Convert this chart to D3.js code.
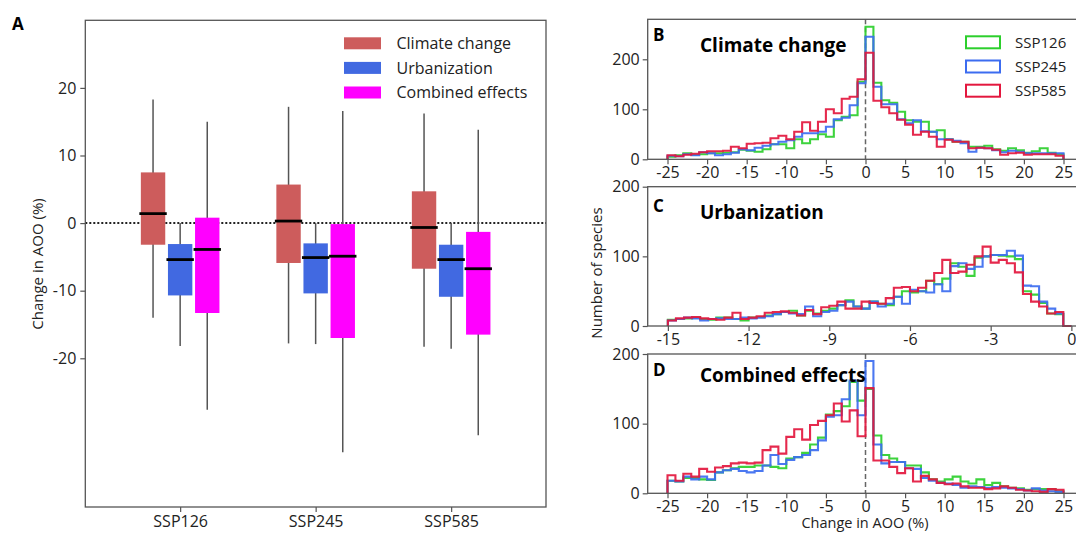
<!DOCTYPE html>
<html>
<head>
<meta charset="utf-8">
<script src="https://cdn.jsdelivr.net/npm/d3@7"></script>
<style>
  body { margin: 0; background: #fff; }
  svg { display: block; font-family: "Open Sans", sans-serif; }
</style>
</head>
<body>
<div id="chart"></div>
<script>
// ---- panel A : box stats, [whisker low, q1, median, q3, whisker high]
var scenarios = ["SSP126", "SSP245", "SSP585"];
var drivers = ["Climate change", "Urbanization", "Combined effects"];
var climateBox = [[-14.0, -3.2, 1.4, 7.5, 18.3], [-17.8, -5.9, 0.3, 5.7, 17.2], [-18.3, -6.75, -0.65, 4.7, 16.2]];
var urbanBox = [[-18.2, -10.7, -5.4, -3.1, 0], [-17.9, -10.4, -5.1, -3.0, 0], [-18.6, -10.9, -5.4, -3.2, 0]];
var combinedBox = [[-27.6, -13.3, -3.9, 0.8, 15.0], [-33.9, -17.0, -4.9, -0.15, 16.6], [-31.4, -16.5, -6.75, -1.3, 13.8]];
var yTicksA = [20, 10, 0, -10, -20];

// ---- panels B-D : histogram counts (50 bins each)
var pctTicks = [-25, -20, -15, -10, -5, 0, 5, 10, 15, 20, 25];
var urbTicks = [-15, -12, -9, -6, -3, 0];
var countTicks = [0, 100, 200];
var ssps = ["SSP126", "SSP245", "SSP585"];

var climateBins = {start: -25, width: 1};
var climate126 = [5,8,12,9,10,12,12,13,14,19,17,15,20,30,30,22,40,32,40,50,45,78,85,88,155,
                  265,153,118,113,95,78,75,75,55,58,40,35,35,25,25,27,20,17,22,18,13,16,22,13,10];
var climate245 = [7,6,10,8,14,12,8,10,13,20,18,23,27,30,35,38,45,52,52,55,65,80,83,108,152,
                  245,145,110,110,80,72,78,56,55,40,40,37,32,15,23,22,18,14,17,15,12,12,12,12,12];
var climate585 = [8,6,9,11,14,16,16,17,25,22,31,32,33,42,47,40,55,74,57,75,100,92,121,125,160,
                  213,117,104,92,79,69,49,55,45,25,39,35,35,22,23,22,19,9,12,13,9,10,10,10,7];

var urbanBins = {start: -15, width: 0.3};
var urban126 = [9,10,11,12,10,9,12,12,10,8,12,13,15,17,20,22,15,22,18,22,25,30,37,28,25,
                35,32,30,42,50,48,50,65,60,68,90,85,72,98,100,102,101,100,96,50,45,33,18,17,0];
var urban245 = [8,10,12,11,8,10,11,10,10,12,11,12,14,17,20,18,17,28,14,20,22,30,35,28,25,
                35,28,32,42,32,52,50,48,60,50,86,90,82,85,100,102,102,108,101,58,57,35,25,18,0];
var urban585 = [8,11,12,13,11,10,9,12,19,10,12,14,19,20,21,19,15,23,17,27,29,35,25,25,35,
                33,32,40,55,56,50,55,65,76,95,76,78,88,100,114,91,95,90,77,46,35,28,18,20,0];

var combinedBins = {start: -25, width: 1};
var combined126 = [18,17,22,22,20,19,30,33,36,38,38,40,40,38,36,50,52,58,70,80,113,118,125,160,133,
                   150,83,55,50,45,40,40,30,20,17,20,24,17,14,20,12,15,10,8,7,5,6,6,6,3];
var combined245 = [18,17,24,20,24,20,30,33,35,32,30,32,40,55,42,48,52,55,62,76,110,112,135,162,112,
                   190,70,43,45,45,36,35,22,18,15,14,12,8,10,9,8,9,8,7,6,4,7,4,3,2];
var combined585 = [26,18,28,24,35,31,37,39,43,44,43,44,62,67,57,81,92,77,98,104,112,129,103,119,82,
                   151,47,47,38,29,36,17,25,20,15,13,14,10,8,8,6,7,10,8,5,4,3,2,6,5];

var boxColors = ["#cd5c5c", "#4169e1", "#ff00ff"];
var lineColors = ["#2ccf2c", "#3c6cf0", "#e3173e"];

var W = 1076, H = 533;
var svg = d3.select("#chart").append("svg")
  .attr("width", W).attr("height", H)
  .attr("viewBox", "0 0 " + W + " " + H);

var fmt = function (d) { return String(d); };

function styleAxis(g, size) {
  g.select(".domain").remove();
  g.selectAll(".tick line").attr("stroke", "#555").attr("stroke-width", 1.2);
  g.selectAll(".tick text").attr("fill", "#222").attr("font-size", size || "16px")
    .attr("font-family", "\"Open Sans\", sans-serif");
}

// ================= panel A =================
var aLeft = 85.3, aRight = 546, aTop = 20.3, aBottom = 507;
var xA = d3.scaleLinear().domain([-0.7, 2.7]).range([aLeft, aRight]);
var yA = d3.scaleLinear().domain([-42, 30]).range([aBottom, aTop]);
var offset = 0.2, boxW = 0.18;

var gA = svg.append("g");

gA.append("g").attr("transform", "translate(" + aLeft + ",0)")
  .call(d3.axisLeft(yA).tickValues(yTicksA).tickSize(5).tickPadding(4).tickFormat(fmt))
  .call(styleAxis);
gA.append("g").attr("transform", "translate(0," + aBottom + ")")
  .call(d3.axisBottom(xA).tickValues([0, 1, 2]).tickSize(5).tickPadding(4)
    .tickFormat(function (d) { return scenarios[d]; }))
  .call(styleAxis);

// zero line
gA.append("line")
  .attr("x1", aLeft).attr("x2", aRight)
  .attr("y1", yA(0)).attr("y2", yA(0))
  .attr("stroke", "#222").attr("stroke-width", 2)
  .attr("stroke-dasharray", "2,2");

var boxSets = [climateBox, urbanBox, combinedBox];
boxSets.forEach(function (set, k) {
  var dx = (k - 1) * offset;
  var grp = gA.append("g").attr("class", "box-" + k);
  set.forEach(function (s, i) {
    var cx = xA(i + dx);
    var half = (xA(boxW) - xA(0)) / 2;
    grp.append("line")
      .attr("x1", cx).attr("x2", cx)
      .attr("y1", yA(s[0])).attr("y2", yA(s[4]))
      .attr("stroke", "#555").attr("stroke-width", 1.5);
    grp.append("rect")
      .attr("x", cx - half).attr("width", half * 2)
      .attr("y", yA(s[3])).attr("height", yA(s[1]) - yA(s[3]))
      .attr("fill", boxColors[k]);
    grp.append("line")
      .attr("x1", cx - half - 1.5).attr("x2", cx + half + 1.5)
      .attr("y1", yA(s[2])).attr("y2", yA(s[2]))
      .attr("stroke", "#000").attr("stroke-width", 2.8);
  });
});

gA.append("rect")
  .attr("x", aLeft).attr("y", aTop)
  .attr("width", aRight - aLeft).attr("height", aBottom - aTop)
  .attr("fill", "none").attr("stroke", "#555").attr("stroke-width", 1.3);

// legend A
var legA = gA.append("g");
drivers.forEach(function (d, k) {
  var cy = 43.3 + k * 24.6;
  legA.append("rect").attr("x", 344).attr("y", cy - 6).attr("width", 37).attr("height", 12)
    .attr("fill", boxColors[k]);
  legA.append("text").attr("x", 396.5).attr("y", cy).attr("dy", "0.35em")
    .attr("font-size", "16px").attr("fill", "#222").text(d);
});

gA.append("text").attr("x", 12).attr("y", 30)
  .attr("font-size", "17px").attr("font-weight", "bold").text("A");

gA.append("text")
  .attr("transform", "translate(38,264) rotate(-90)")
  .attr("text-anchor", "middle").attr("dy", "0.35em")
  .attr("font-size", "15px").attr("fill", "#222")
  .text("Change in AOO (%)");

// ================= panels B-D =================
var hLeft = 647.7;
svg.append("defs").append("clipPath").attr("id", "clipR")
  .append("rect").attr("x", hLeft).attr("y", 0).attr("width", W - hLeft).attr("height", H);

function histPanel(cfg) {
  var g = svg.append("g");
  var x = d3.scaleLinear().domain(cfg.xDomain).range([hLeft, hLeft + (cfg.xDomain[1] - cfg.xDomain[0]) * cfg.pxPerUnit]);
  var y = d3.scaleLinear().domain(cfg.yDomain).range([cfg.bottom, cfg.top]);

  g.append("g").attr("transform", "translate(" + hLeft + ",0)")
    .call(d3.axisLeft(y).tickValues(countTicks).tickSize(5).tickPadding(3).tickFormat(fmt))
    .call(styleAxis);
  g.append("g").attr("transform", "translate(0," + cfg.bottom + ")")
    .call(d3.axisBottom(x).tickValues(cfg.ticks).tickSize(5).tickPadding(2.5).tickFormat(fmt))
    .call(styleAxis);

  var plot = g.append("g").attr("clip-path", "url(#clipR)");

  if (cfg.dashZero) {
    plot.append("line")
      .attr("x1", x(0)).attr("x2", x(0))
      .attr("y1", cfg.top).attr("y2", cfg.bottom)
      .attr("stroke", "#666").attr("stroke-width", 1.5)
      .attr("stroke-dasharray", "5,3");
  }

  var line = d3.line().x(function (p) { return x(p[0]); }).y(function (p) { return y(p[1]); });
  cfg.series.forEach(function (vals, k) {
    var pts = [[cfg.bins.start, 0]];
    vals.forEach(function (v, i) {
      var e0 = cfg.bins.start + i * cfg.bins.width;
      pts.push([e0, v], [e0 + cfg.bins.width, v]);
    });
    pts.push([cfg.bins.start + vals.length * cfg.bins.width, 0]);
    plot.append("path").attr("d", line(pts))
      .attr("fill", "none").attr("stroke", lineColors[k])
      .attr("stroke-width", 2.1).attr("stroke-linejoin", "miter").attr("opacity", 0.92);
  });

  g.append("rect")
    .attr("x", hLeft).attr("y", cfg.top)
    .attr("width", x.range()[1] - hLeft).attr("height", cfg.bottom - cfg.top)
    .attr("fill", "none").attr("stroke", "#555").attr("stroke-width", 1.3);

  g.append("text").attr("x", 653).attr("y", cfg.letterY)
    .attr("font-size", "17px").attr("font-weight", "bold").text(cfg.letter);
  g.append("text").attr("x", 700).attr("y", cfg.titleY)
    .attr("font-size", "19px").attr("font-weight", "bold").text(cfg.title);
  return g;
}

histPanel({
  top: 19.3, bottom: 159.3, xDomain: [-27.5, 27.5], yDomain: [0, 280], pxPerUnit: 7.92,
  ticks: pctTicks, bins: climateBins, series: [climate126, climate245, climate585],
  dashZero: true, letter: "B", letterY: 41, title: "Climate change", titleY: 51.5
});
histPanel({
  top: 186.7, bottom: 326, xDomain: [-15.75, 0.75], yDomain: [0, 200], pxPerUnit: 26.9,
  ticks: urbTicks, bins: urbanBins, series: [urban126, urban245, urban585],
  dashZero: false, letter: "C", letterY: 212, title: "Urbanization", titleY: 219
});
histPanel({
  top: 354, bottom: 493.3, xDomain: [-27.5, 27.5], yDomain: [0, 200], pxPerUnit: 7.92,
  ticks: pctTicks, bins: combinedBins, series: [combined126, combined245, combined585],
  dashZero: true, letter: "D", letterY: 375.5, title: "Combined effects", titleY: 381.7
});

// legend B
var legB = svg.append("g");
ssps.forEach(function (s, k) {
  var cy = 42.3 + k * 24.2;
  legB.append("rect").attr("x", 966).attr("y", cy - 6).attr("width", 34).attr("height", 12)
    .attr("fill", "none").attr("stroke", lineColors[k]).attr("stroke-width", 2);
  legB.append("text").attr("x", 1015).attr("y", cy).attr("dy", "0.35em")
    .attr("font-size", "15px").attr("fill", "#222").text(s);
});

svg.append("text")
  .attr("transform", "translate(597,273) rotate(-90)")
  .attr("text-anchor", "middle").attr("dy", "0.35em")
  .attr("font-size", "15px").attr("fill", "#222")
  .text("Number of species");
svg.append("text")
  .attr("x", 865).attr("y", 523).attr("dy", "0.35em")
  .attr("text-anchor", "middle")
  .attr("font-size", "14.5px").attr("fill", "#222")
  .text("Change in AOO (%)");
</script>
</body>
</html>
